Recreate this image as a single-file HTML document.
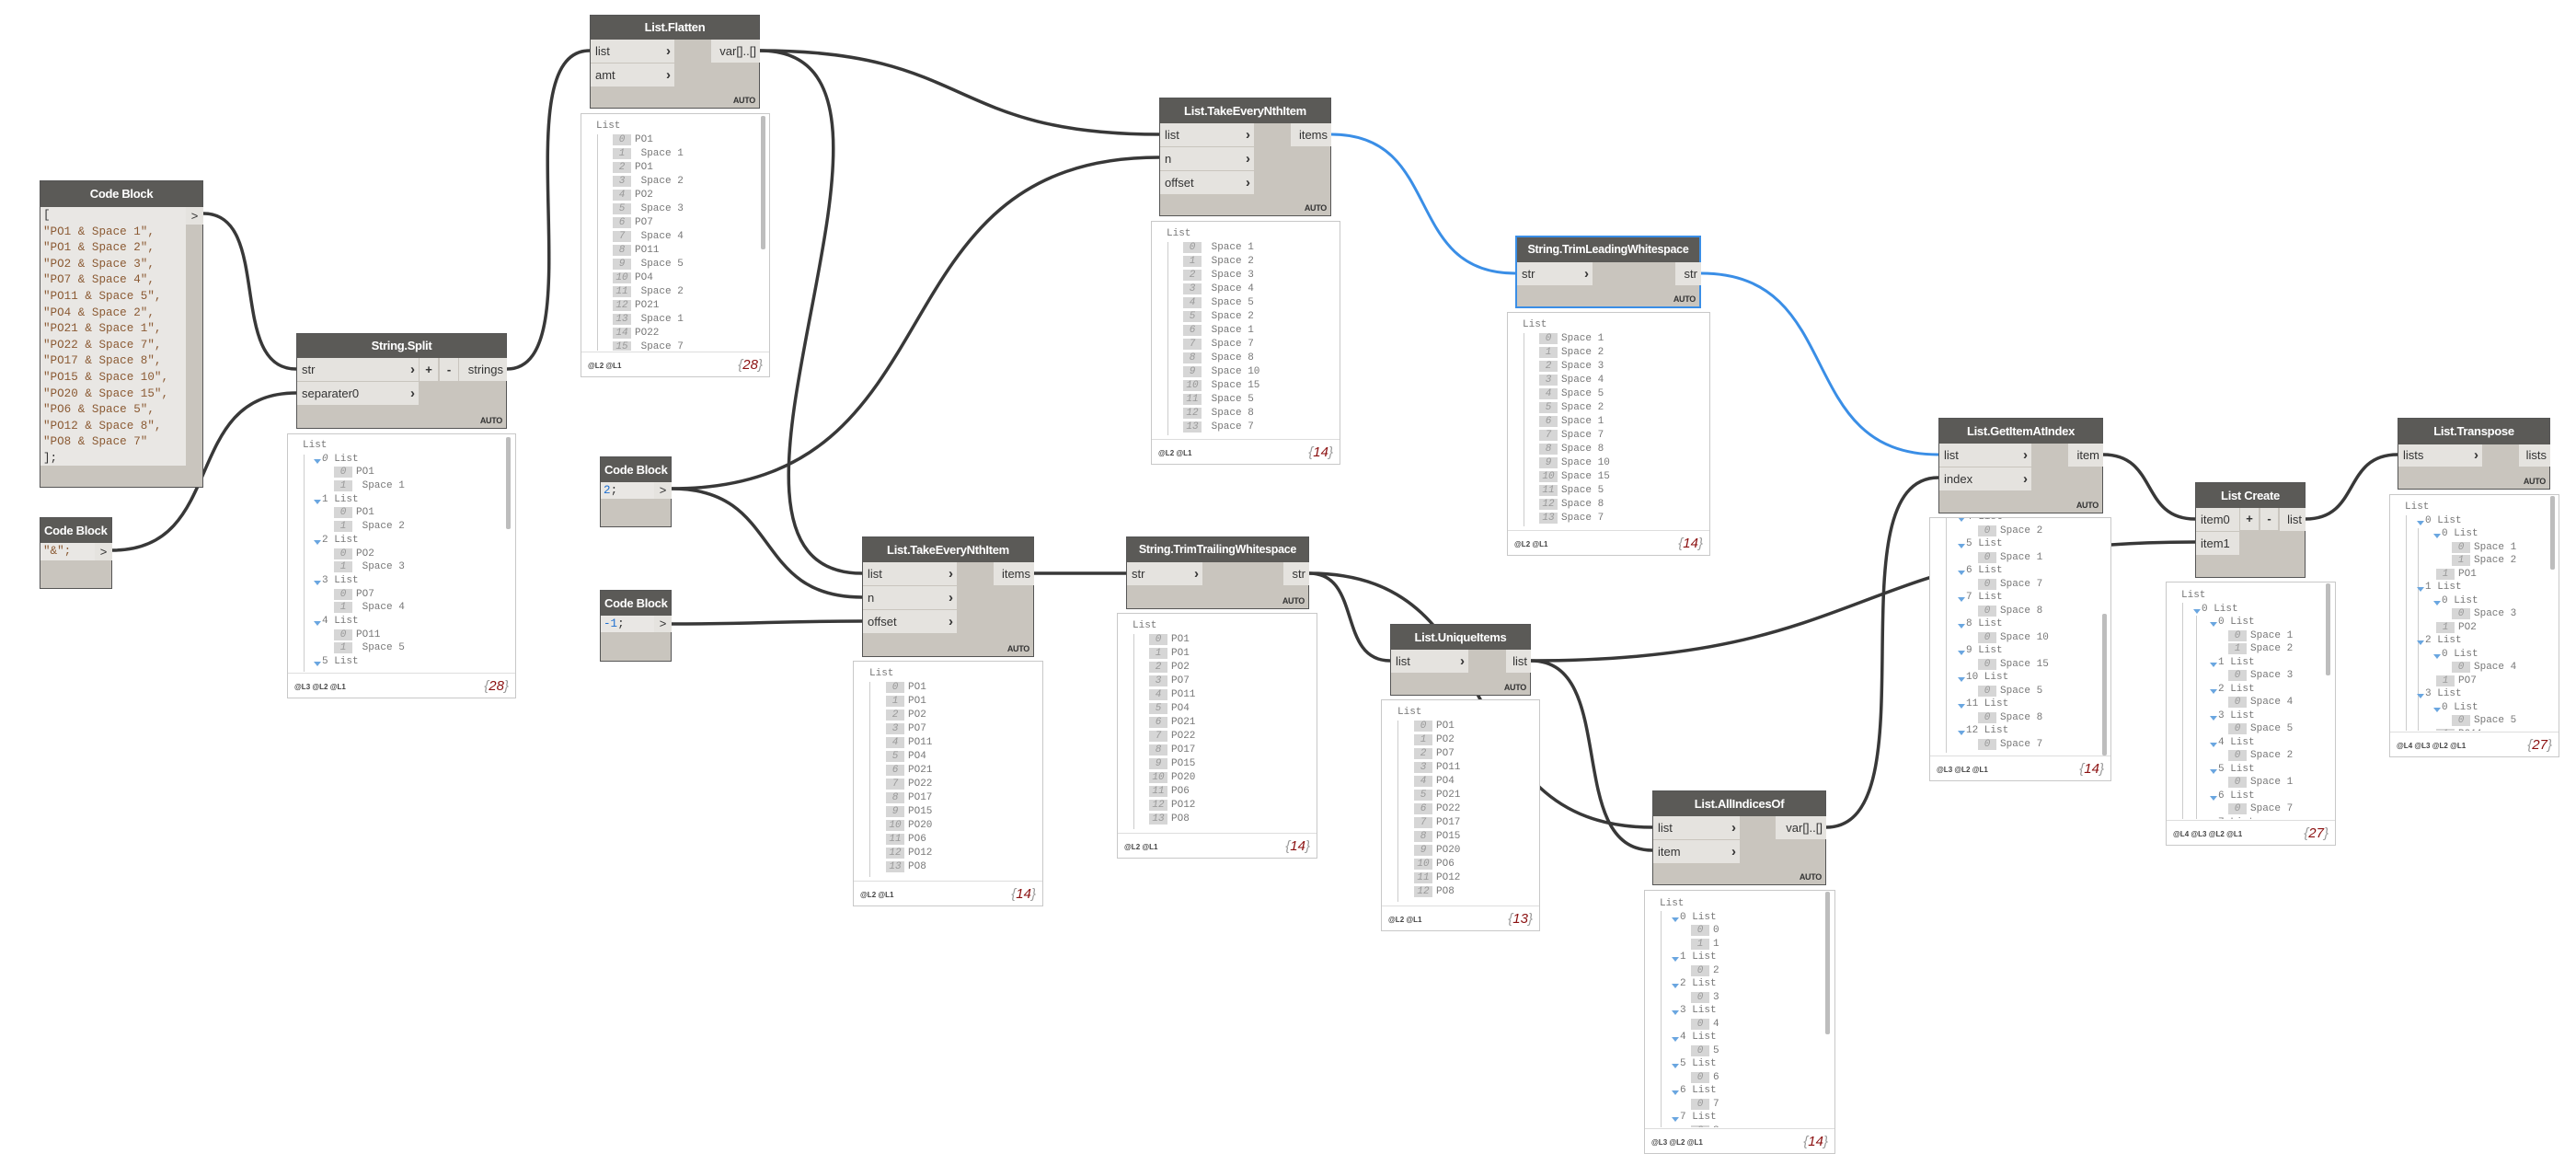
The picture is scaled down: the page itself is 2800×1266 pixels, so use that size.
<!DOCTYPE html>
<html><head><meta charset="utf-8"><style>
*{box-sizing:border-box;margin:0;padding:0}
body{width:2800px;height:1266px;background:#fff;position:relative;overflow:hidden;font-family:"Liberation Sans",sans-serif}
.n{position:absolute;background:#c9c5be;border:1px solid #555}
.n.sel{border:2px solid #3a8ee6}
.h{position:absolute;left:0;right:0;top:0;background:#5b5a57;color:#fff;font-weight:bold;font-size:13px;text-align:center;white-space:nowrap;letter-spacing:-0.3px}
.p{position:absolute;background:#e5e3df;color:#333;font-size:13px;padding-left:5px;white-space:nowrap}
.p i{position:absolute;right:4px;font-style:normal;font-weight:bold;font-size:15px;color:#333}
.o{position:absolute;background:#e5e3df;color:#333;font-size:13px;text-align:right;padding-right:4px;white-space:nowrap}
.a{position:absolute;right:4px;bottom:3px;font-size:9px;font-weight:bold;color:#333;letter-spacing:-0.3px}
.pm{position:absolute;background:#e5e3df;color:#333;font-size:13px;text-align:center;font-weight:bold}
.cb{position:absolute;background:#e9e7e4;font:12.6px "Liberation Mono",monospace;color:#8b5a33;white-space:pre;padding-left:3px}
.w{position:absolute;background:#fff;border:1px solid #c8c8c8;font:11px "Liberation Mono",monospace;color:#777;overflow:hidden}
.c{position:absolute;left:0;right:0;top:0;bottom:28px;overflow:hidden;padding-top:6px}
.l{height:15px;line-height:15px;white-space:pre}
.s .l{height:14.5px;line-height:14.5px}
.s2 .l{height:14.7px;line-height:14.7px}
.b{display:inline-block;background:#d6d6d6;color:#999;font-style:italic;min-width:20px;padding:0 3px;text-align:center;height:12px;line-height:12px;margin-right:4px}
.t{display:inline-block;width:0;height:0;border-left:4px solid transparent;border-right:4px solid transparent;border-top:5px solid #6aa6e0;vertical-align:-3px;margin-right:1px}
.f{position:absolute;left:0;right:0;bottom:0;height:27px;border-top:1px solid #ddd;background:#fff}
.lv{position:absolute;left:7px;top:10px;font:bold 8px "Liberation Sans",sans-serif;color:#444}
.ct{position:absolute;right:7px;top:5px;font:italic 15px "Liberation Sans",sans-serif;color:#999}
.ct b{color:#8b1010;font-weight:normal}
.tl{position:absolute;width:1px;background:#ccc}
.sb{position:absolute;width:5px;background:#bdbdbd;border-radius:2px}
</style></head><body>

<svg width="2800" height="1266" style="position:absolute;left:0;top:0" fill="none">
<g stroke="#383838" stroke-width="3.5">
<path d="M221 232 C297 232 246 401 322 401"/>
<path d="M122 598 C248 598 196 427 322 427"/>
<path d="M551 401 C649 401 543 55 641 55"/>
<path d="M826 55 C1057 55 1029 146 1260 146"/>
<path d="M826 55 C1046 55 717 623 937 623"/>
<path d="M730 531 C1049 531 941 171 1260 171"/>
<path d="M730 531 C851 531 816 649 937 649"/>
<path d="M730 678 C830 678 837 675 937 675"/>
<path d="M1124 623 L1224 623"/>
<path d="M1423 623 C1481 623 1453 718 1511 718"/>
<path d="M1423 623 C1650 623 1569 899 1796 899"/>
<path d="M1664 718 C1761 718 1699 924 1796 924"/>
<path d="M1664 718 C2044 718 2006 589 2386 589"/>
<path d="M1985 899 C2103 899 1989 519 2107 519"/>
<path d="M2286 494 C2346 494 2326 564 2386 564"/>
<path d="M2506 564 C2566 564 2546 494 2606 494"/>
</g>
<g stroke="#3a8ee6" stroke-width="3">
<path d="M1447 146 C1570 146 1524 297 1647 297"/>
<path d="M1849 297 C2008 297 1948 494 2107 494"/>
</g>
</svg>

<!-- Code Block 1 -->
<div class="n" style="left:43px;top:196px;width:178px;height:334px">
<div class="h" style="height:28px;line-height:28px">Code Block</div>
<div class="cb" style="left:0;top:28px;width:158px;height:281px;line-height:17.6px;padding-top:1px"><span style="color:#333">[</span>
"PO1 &amp; Space 1",
"PO1 &amp; Space 2",
"PO2 &amp; Space 3",
"PO7 &amp; Space 4",
"PO11 &amp; Space 5",
"PO4 &amp; Space 2",
"PO21 &amp; Space 1",
"PO22 &amp; Space 7",
"PO17 &amp; Space 8",
"PO15 &amp; Space 10",
"PO20 &amp; Space 15",
"PO6 &amp; Space 5",
"PO12 &amp; Space 8",
"PO8 &amp; Space 7"
<span style="color:#333">];</span></div>
<div class="o" style="left:158px;top:28px;width:19px;height:19px;line-height:19px;text-align:center;padding:0">&gt;</div>
</div>

<!-- Code Block 2 -->
<div class="n" style="left:43px;top:562px;width:79px;height:78px">
<div class="h" style="height:27px;line-height:27px;text-align:left;padding-left:4px">Code Block</div>
<div class="cb" style="left:0;top:27px;width:59px;height:19px;line-height:19px">"&amp;";</div>
<div class="o" style="left:59px;top:27px;width:19px;height:19px;line-height:19px;text-align:center;padding:0">&gt;</div>
</div>

<!-- Code Block 2; -->
<div class="n" style="left:652px;top:496px;width:78px;height:77px">
<div class="h" style="height:27px;line-height:27px;text-align:left;padding-left:4px">Code Block</div>
<div class="cb" style="left:0;top:27px;width:58px;height:18px;line-height:18px;color:#333"><span style="color:#1e6fd0">2</span>;</div>
<div class="o" style="left:58px;top:27px;width:19px;height:18px;line-height:18px;text-align:center;padding:0">&gt;</div>
</div>

<!-- Code Block -1; -->
<div class="n" style="left:652px;top:641px;width:78px;height:78px">
<div class="h" style="height:27px;line-height:27px;text-align:left;padding-left:4px">Code Block</div>
<div class="cb" style="left:0;top:27px;width:58px;height:18px;line-height:18px;color:#333"><span style="color:#1e6fd0">-1</span>;</div>
<div class="o" style="left:58px;top:27px;width:19px;height:18px;line-height:18px;text-align:center;padding:0">&gt;</div>
</div>

<!-- String.Split -->
<div class="n" style="left:322px;top:362px;width:229px;height:104px">
<div class="h" style="height:26px;line-height:26px">String.Split</div>
<div class="p" style="left:0;top:26px;width:132px;height:25px;line-height:25px">str<i>›</i></div>
<div class="p" style="left:0;top:52px;width:132px;height:25px;line-height:25px">separater0<i>›</i></div>
<div class="pm" style="left:133px;top:26px;width:20px;height:25px;line-height:25px">+</div>
<div class="pm" style="left:155px;top:26px;width:20px;height:25px;line-height:25px">-</div>
<div class="o" style="left:176px;top:26px;width:52px;height:25px;line-height:25px">strings</div>
<div class="a">AUTO</div>
</div>

<!-- List.Flatten -->
<div class="n" style="left:641px;top:16px;width:185px;height:102px">
<div class="h" style="height:26px;line-height:26px">List.Flatten</div>
<div class="p" style="left:0;top:26px;width:91px;height:25px;line-height:25px">list<i>›</i></div>
<div class="p" style="left:0;top:52px;width:91px;height:25px;line-height:25px">amt<i>›</i></div>
<div class="o" style="left:131px;top:26px;width:53px;height:25px;line-height:25px">var[]..[]</div>
<div class="a">AUTO</div>
</div>

<!-- TakeEveryNth 1 -->
<div class="n" style="left:1260px;top:106px;width:187px;height:129px">
<div class="h" style="height:27px;line-height:27px">List.TakeEveryNthItem</div>
<div class="p" style="left:0;top:27px;width:102px;height:25px;line-height:25px">list<i>›</i></div>
<div class="p" style="left:0;top:53px;width:102px;height:25px;line-height:25px">n<i>›</i></div>
<div class="p" style="left:0;top:79px;width:102px;height:25px;line-height:25px">offset<i>›</i></div>
<div class="o" style="left:142px;top:27px;width:44px;height:25px;line-height:25px">items</div>
<div class="a">AUTO</div>
</div>

<!-- TakeEveryNth 2 -->
<div class="n" style="left:937px;top:583px;width:187px;height:131px">
<div class="h" style="height:27px;line-height:27px">List.TakeEveryNthItem</div>
<div class="p" style="left:0;top:27px;width:102px;height:25px;line-height:25px">list<i>›</i></div>
<div class="p" style="left:0;top:53px;width:102px;height:25px;line-height:25px">n<i>›</i></div>
<div class="p" style="left:0;top:79px;width:102px;height:25px;line-height:25px">offset<i>›</i></div>
<div class="o" style="left:142px;top:27px;width:44px;height:25px;line-height:25px">items</div>
<div class="a">AUTO</div>
</div>

<!-- TrimTrailing -->
<div class="n" style="left:1224px;top:583px;width:199px;height:79px">
<div class="h" style="height:27px;line-height:27px;font-size:12.5px">String.TrimTrailingWhitespace</div>
<div class="p" style="left:0;top:27px;width:82px;height:25px;line-height:25px">str<i>›</i></div>
<div class="o" style="left:170px;top:27px;width:28px;height:25px;line-height:25px">str</div>
<div class="a">AUTO</div>
</div>

<!-- UniqueItems -->
<div class="n" style="left:1511px;top:678px;width:153px;height:78px">
<div class="h" style="height:27px;line-height:27px">List.UniqueItems</div>
<div class="p" style="left:0;top:27px;width:84px;height:25px;line-height:25px">list<i>›</i></div>
<div class="o" style="left:125px;top:27px;width:27px;height:25px;line-height:25px">list</div>
<div class="a">AUTO</div>
</div>

<!-- TrimLeading -->
<div class="n sel" style="left:1647px;top:256px;width:202px;height:79px">
<div class="h" style="height:27px;line-height:27px;font-size:12.5px">String.TrimLeadingWhitespace</div>
<div class="p" style="left:0;top:27px;width:82px;height:25px;line-height:25px">str<i>›</i></div>
<div class="o" style="left:172px;top:27px;width:28px;height:25px;line-height:25px">str</div>
<div class="a">AUTO</div>
</div>

<!-- GetItemAtIndex -->
<div class="n" style="left:2107px;top:454px;width:179px;height:104px">
<div class="h" style="height:27px;line-height:27px">List.GetItemAtIndex</div>
<div class="p" style="left:0;top:27px;width:100px;height:25px;line-height:25px">list<i>›</i></div>
<div class="p" style="left:0;top:53px;width:100px;height:25px;line-height:25px">index<i>›</i></div>
<div class="o" style="left:140px;top:27px;width:38px;height:25px;line-height:25px">item</div>
<div class="a">AUTO</div>
</div>

<!-- List Create -->
<div class="n" style="left:2386px;top:524px;width:120px;height:104px">
<div class="h" style="height:27px;line-height:27px">List Create</div>
<div class="p" style="left:0;top:27px;width:47px;height:25px;line-height:25px">item0</div>
<div class="p" style="left:0;top:53px;width:47px;height:25px;line-height:25px">item1</div>
<div class="pm" style="left:48px;top:27px;width:20px;height:24px;line-height:24px">+</div>
<div class="pm" style="left:70px;top:27px;width:19px;height:24px;line-height:24px">-</div>
<div class="o" style="left:91px;top:27px;width:28px;height:25px;line-height:25px">list</div>
</div>

<!-- Transpose -->
<div class="n" style="left:2606px;top:454px;width:166px;height:78px">
<div class="h" style="height:28px;line-height:28px">List.Transpose</div>
<div class="p" style="left:0;top:28px;width:91px;height:24px;line-height:24px">lists<i>›</i></div>
<div class="o" style="left:131px;top:28px;width:34px;height:24px;line-height:24px">lists</div>
<div class="a">AUTO</div>
</div>

<!-- AllIndicesOf -->
<div class="n" style="left:1796px;top:859px;width:189px;height:103px">
<div class="h" style="height:27px;line-height:27px">List.AllIndicesOf</div>
<div class="p" style="left:0;top:27px;width:94px;height:25px;line-height:25px">list<i>›</i></div>
<div class="p" style="left:0;top:53px;width:94px;height:25px;line-height:25px">item<i>›</i></div>
<div class="o" style="left:133px;top:27px;width:55px;height:25px;line-height:25px">var[]..[]</div>
<div class="a">AUTO</div>
</div>

<!-- Watch: Split -->
<div class="w s2" style="left:312px;top:471px;width:249px;height:288px">
<div class="tl" style="left:17px;top:22px;height:236px"></div>
<div class="c" style="padding-top:5px">
<div class="l" style="padding-left:16px">List</div>
<div class="l" style="padding-left:28px"><span class="t"></span><i>0</i> List</div>
<div class="l" style="padding-left:50px"><span class="b">0</span>PO1</div>
<div class="l" style="padding-left:50px"><span class="b">1</span> Space 1</div>
<div class="l" style="padding-left:28px"><span class="t"></span>1 List</div>
<div class="l" style="padding-left:50px"><span class="b">0</span>PO1</div>
<div class="l" style="padding-left:50px"><span class="b">1</span> Space 2</div>
<div class="l" style="padding-left:28px"><span class="t"></span>2 List</div>
<div class="l" style="padding-left:50px"><span class="b">0</span>PO2</div>
<div class="l" style="padding-left:50px"><span class="b">1</span> Space 3</div>
<div class="l" style="padding-left:28px"><span class="t"></span>3 List</div>
<div class="l" style="padding-left:50px"><span class="b">0</span>PO7</div>
<div class="l" style="padding-left:50px"><span class="b">1</span> Space 4</div>
<div class="l" style="padding-left:28px"><span class="t"></span>4 List</div>
<div class="l" style="padding-left:50px"><span class="b">0</span>PO11</div>
<div class="l" style="padding-left:50px"><span class="b">1</span> Space 5</div>
<div class="l" style="padding-left:28px"><span class="t"></span>5 List</div>
</div>
<div class="sb" style="left:237px;top:3px;height:100px"></div>
<div class="f"><span class="lv">@L3 @L2 @L1</span><span class="ct">{<b>28</b>}</span></div>
</div>

<!-- Watch: Flatten -->
<div class="w" style="left:631px;top:123px;width:206px;height:287px">
<div class="tl" style="left:17px;top:22px;height:235px"></div>
<div class="c">
<div class="l" style="padding-left:16px">List</div>
<div class="l" style="padding-left:34px"><span class="b">0</span>PO1</div>
<div class="l" style="padding-left:34px"><span class="b">1</span> Space 1</div>
<div class="l" style="padding-left:34px"><span class="b">2</span>PO1</div>
<div class="l" style="padding-left:34px"><span class="b">3</span> Space 2</div>
<div class="l" style="padding-left:34px"><span class="b">4</span>PO2</div>
<div class="l" style="padding-left:34px"><span class="b">5</span> Space 3</div>
<div class="l" style="padding-left:34px"><span class="b">6</span>PO7</div>
<div class="l" style="padding-left:34px"><span class="b">7</span> Space 4</div>
<div class="l" style="padding-left:34px"><span class="b">8</span>PO11</div>
<div class="l" style="padding-left:34px"><span class="b">9</span> Space 5</div>
<div class="l" style="padding-left:34px"><span class="b">10</span>PO4</div>
<div class="l" style="padding-left:34px"><span class="b">11</span> Space 2</div>
<div class="l" style="padding-left:34px"><span class="b">12</span>PO21</div>
<div class="l" style="padding-left:34px"><span class="b">13</span> Space 1</div>
<div class="l" style="padding-left:34px"><span class="b">14</span>PO22</div>
<div class="l" style="padding-left:34px"><span class="b">15</span> Space 7</div>
</div>
<div class="sb" style="left:195px;top:2px;height:145px"></div>
<div class="f"><span class="lv">@L2 @L1</span><span class="ct">{<b>28</b>}</span></div>
</div>

<!-- Watch: TakeNth1 -->
<div class="w" style="left:1251px;top:240px;width:206px;height:265px">
<div class="tl" style="left:17px;top:22px;height:210px"></div>
<div class="c">
<div class="l" style="padding-left:16px">List</div>
<div class="l" style="padding-left:34px"><span class="b">0</span> Space 1</div>
<div class="l" style="padding-left:34px"><span class="b">1</span> Space 2</div>
<div class="l" style="padding-left:34px"><span class="b">2</span> Space 3</div>
<div class="l" style="padding-left:34px"><span class="b">3</span> Space 4</div>
<div class="l" style="padding-left:34px"><span class="b">4</span> Space 5</div>
<div class="l" style="padding-left:34px"><span class="b">5</span> Space 2</div>
<div class="l" style="padding-left:34px"><span class="b">6</span> Space 1</div>
<div class="l" style="padding-left:34px"><span class="b">7</span> Space 7</div>
<div class="l" style="padding-left:34px"><span class="b">8</span> Space 8</div>
<div class="l" style="padding-left:34px"><span class="b">9</span> Space 10</div>
<div class="l" style="padding-left:34px"><span class="b">10</span> Space 15</div>
<div class="l" style="padding-left:34px"><span class="b">11</span> Space 5</div>
<div class="l" style="padding-left:34px"><span class="b">12</span> Space 8</div>
<div class="l" style="padding-left:34px"><span class="b">13</span> Space 7</div>
</div>
<div class="f"><span class="lv">@L2 @L1</span><span class="ct">{<b>14</b>}</span></div>
</div>

<!-- Watch: TakeNth2 -->
<div class="w" style="left:927px;top:718px;width:207px;height:267px">
<div class="tl" style="left:17px;top:22px;height:212px"></div>
<div class="c">
<div class="l" style="padding-left:17px">List</div>
<div class="l" style="padding-left:35px"><span class="b">0</span>PO1</div>
<div class="l" style="padding-left:35px"><span class="b">1</span>PO1</div>
<div class="l" style="padding-left:35px"><span class="b">2</span>PO2</div>
<div class="l" style="padding-left:35px"><span class="b">3</span>PO7</div>
<div class="l" style="padding-left:35px"><span class="b">4</span>PO11</div>
<div class="l" style="padding-left:35px"><span class="b">5</span>PO4</div>
<div class="l" style="padding-left:35px"><span class="b">6</span>PO21</div>
<div class="l" style="padding-left:35px"><span class="b">7</span>PO22</div>
<div class="l" style="padding-left:35px"><span class="b">8</span>PO17</div>
<div class="l" style="padding-left:35px"><span class="b">9</span>PO15</div>
<div class="l" style="padding-left:35px"><span class="b">10</span>PO20</div>
<div class="l" style="padding-left:35px"><span class="b">11</span>PO6</div>
<div class="l" style="padding-left:35px"><span class="b">12</span>PO12</div>
<div class="l" style="padding-left:35px"><span class="b">13</span>PO8</div>
</div>
<div class="f"><span class="lv">@L2 @L1</span><span class="ct">{<b>14</b>}</span></div>
</div>

<!-- Watch: TrimTrailing -->
<div class="w" style="left:1214px;top:666px;width:218px;height:267px">
<div class="tl" style="left:17px;top:22px;height:212px"></div>
<div class="c">
<div class="l" style="padding-left:16px">List</div>
<div class="l" style="padding-left:34px"><span class="b">0</span>PO1</div>
<div class="l" style="padding-left:34px"><span class="b">1</span>PO1</div>
<div class="l" style="padding-left:34px"><span class="b">2</span>PO2</div>
<div class="l" style="padding-left:34px"><span class="b">3</span>PO7</div>
<div class="l" style="padding-left:34px"><span class="b">4</span>PO11</div>
<div class="l" style="padding-left:34px"><span class="b">5</span>PO4</div>
<div class="l" style="padding-left:34px"><span class="b">6</span>PO21</div>
<div class="l" style="padding-left:34px"><span class="b">7</span>PO22</div>
<div class="l" style="padding-left:34px"><span class="b">8</span>PO17</div>
<div class="l" style="padding-left:34px"><span class="b">9</span>PO15</div>
<div class="l" style="padding-left:34px"><span class="b">10</span>PO20</div>
<div class="l" style="padding-left:34px"><span class="b">11</span>PO6</div>
<div class="l" style="padding-left:34px"><span class="b">12</span>PO12</div>
<div class="l" style="padding-left:34px"><span class="b">13</span>PO8</div>
</div>
<div class="f"><span class="lv">@L2 @L1</span><span class="ct">{<b>14</b>}</span></div>
</div>

<!-- Watch: Unique -->
<div class="w" style="left:1501px;top:760px;width:173px;height:252px">
<div class="tl" style="left:17px;top:22px;height:197px"></div>
<div class="c">
<div class="l" style="padding-left:17px">List</div>
<div class="l" style="padding-left:35px"><span class="b">0</span>PO1</div>
<div class="l" style="padding-left:35px"><span class="b">1</span>PO2</div>
<div class="l" style="padding-left:35px"><span class="b">2</span>PO7</div>
<div class="l" style="padding-left:35px"><span class="b">3</span>PO11</div>
<div class="l" style="padding-left:35px"><span class="b">4</span>PO4</div>
<div class="l" style="padding-left:35px"><span class="b">5</span>PO21</div>
<div class="l" style="padding-left:35px"><span class="b">6</span>PO22</div>
<div class="l" style="padding-left:35px"><span class="b">7</span>PO17</div>
<div class="l" style="padding-left:35px"><span class="b">8</span>PO15</div>
<div class="l" style="padding-left:35px"><span class="b">9</span>PO20</div>
<div class="l" style="padding-left:35px"><span class="b">10</span>PO6</div>
<div class="l" style="padding-left:35px"><span class="b">11</span>PO12</div>
<div class="l" style="padding-left:35px"><span class="b">12</span>PO8</div>
</div>
<div class="f"><span class="lv">@L2 @L1</span><span class="ct">{<b>13</b>}</span></div>
</div>

<!-- Watch: TrimLeading -->
<div class="w" style="left:1638px;top:339px;width:221px;height:265px">
<div class="tl" style="left:17px;top:22px;height:210px"></div>
<div class="c">
<div class="l" style="padding-left:16px">List</div>
<div class="l" style="padding-left:34px"><span class="b">0</span>Space 1</div>
<div class="l" style="padding-left:34px"><span class="b">1</span>Space 2</div>
<div class="l" style="padding-left:34px"><span class="b">2</span>Space 3</div>
<div class="l" style="padding-left:34px"><span class="b">3</span>Space 4</div>
<div class="l" style="padding-left:34px"><span class="b">4</span>Space 5</div>
<div class="l" style="padding-left:34px"><span class="b">5</span>Space 2</div>
<div class="l" style="padding-left:34px"><span class="b">6</span>Space 1</div>
<div class="l" style="padding-left:34px"><span class="b">7</span>Space 7</div>
<div class="l" style="padding-left:34px"><span class="b">8</span>Space 8</div>
<div class="l" style="padding-left:34px"><span class="b">9</span>Space 10</div>
<div class="l" style="padding-left:34px"><span class="b">10</span>Space 15</div>
<div class="l" style="padding-left:34px"><span class="b">11</span>Space 5</div>
<div class="l" style="padding-left:34px"><span class="b">12</span>Space 8</div>
<div class="l" style="padding-left:34px"><span class="b">13</span>Space 7</div>
</div>
<div class="f"><span class="lv">@L2 @L1</span><span class="ct">{<b>14</b>}</span></div>
</div>

<!-- Watch: GetItemAtIndex -->
<div class="w s" style="left:2097px;top:562px;width:198px;height:287px">
<div class="tl" style="left:17px;top:0;height:255px"></div>
<div class="c" style="padding-top:0"><div style="margin-top:-8px">
<div class="l" style="padding-left:30px"><span class="t"></span>4 List</div>
<div class="l" style="padding-left:52px"><span class="b">0</span>Space 2</div>
<div class="l" style="padding-left:30px"><span class="t"></span>5 List</div>
<div class="l" style="padding-left:52px"><span class="b">0</span>Space 1</div>
<div class="l" style="padding-left:30px"><span class="t"></span>6 List</div>
<div class="l" style="padding-left:52px"><span class="b">0</span>Space 7</div>
<div class="l" style="padding-left:30px"><span class="t"></span>7 List</div>
<div class="l" style="padding-left:52px"><span class="b">0</span>Space 8</div>
<div class="l" style="padding-left:30px"><span class="t"></span>8 List</div>
<div class="l" style="padding-left:52px"><span class="b">0</span>Space 10</div>
<div class="l" style="padding-left:30px"><span class="t"></span>9 List</div>
<div class="l" style="padding-left:52px"><span class="b">0</span>Space 15</div>
<div class="l" style="padding-left:30px"><span class="t"></span>10 List</div>
<div class="l" style="padding-left:52px"><span class="b">0</span>Space 5</div>
<div class="l" style="padding-left:30px"><span class="t"></span>11 List</div>
<div class="l" style="padding-left:52px"><span class="b">0</span>Space 8</div>
<div class="l" style="padding-left:30px"><span class="t"></span>12 List</div>
<div class="l" style="padding-left:52px"><span class="b">0</span>Space 7</div>
</div></div>
<div class="sb" style="left:187px;top:104px;height:154px"></div>
<div class="f"><span class="lv">@L3 @L2 @L1</span><span class="ct">{<b>14</b>}</span></div>
</div>

<!-- Watch: List Create -->
<div class="w s" style="left:2354px;top:632px;width:185px;height:287px">
<div class="tl" style="left:17px;top:22px;height:235px"></div>
<div class="tl" style="left:32px;top:36px;height:221px"></div>
<div class="c" style="padding-top:7px">
<div class="l" style="padding-left:16px">List</div>
<div class="l" style="padding-left:29px"><span class="t"></span>0 List</div>
<div class="l" style="padding-left:47px"><span class="t"></span>0 List</div>
<div class="l" style="padding-left:67px"><span class="b">0</span>Space 1</div>
<div class="l" style="padding-left:67px"><span class="b">1</span>Space 2</div>
<div class="l" style="padding-left:47px"><span class="t"></span>1 List</div>
<div class="l" style="padding-left:67px"><span class="b">0</span>Space 3</div>
<div class="l" style="padding-left:47px"><span class="t"></span>2 List</div>
<div class="l" style="padding-left:67px"><span class="b">0</span>Space 4</div>
<div class="l" style="padding-left:47px"><span class="t"></span>3 List</div>
<div class="l" style="padding-left:67px"><span class="b">0</span>Space 5</div>
<div class="l" style="padding-left:47px"><span class="t"></span>4 List</div>
<div class="l" style="padding-left:67px"><span class="b">0</span>Space 2</div>
<div class="l" style="padding-left:47px"><span class="t"></span>5 List</div>
<div class="l" style="padding-left:67px"><span class="b">0</span>Space 1</div>
<div class="l" style="padding-left:47px"><span class="t"></span>6 List</div>
<div class="l" style="padding-left:67px"><span class="b">0</span>Space 7</div>
<div class="l" style="padding-left:47px"><span class="t"></span>7 List</div>
</div>
<div class="sb" style="left:173px;top:1px;height:100px"></div>
<div class="f"><span class="lv">@L4 @L3 @L2 @L1</span><span class="ct">{<b>27</b>}</span></div>
</div>

<!-- Watch: Transpose -->
<div class="w s" style="left:2597px;top:537px;width:185px;height:286px">
<div class="tl" style="left:17px;top:22px;height:234px"></div>
<div class="tl" style="left:30px;top:36px;height:220px"></div>
<div class="c" style="padding-top:6px">
<div class="l" style="padding-left:16px">List</div>
<div class="l" style="padding-left:29px"><span class="t"></span>0 List</div>
<div class="l" style="padding-left:47px"><span class="t"></span>0 List</div>
<div class="l" style="padding-left:67px"><span class="b">0</span>Space 1</div>
<div class="l" style="padding-left:67px"><span class="b">1</span>Space 2</div>
<div class="l" style="padding-left:50px"><span class="b">1</span>PO1</div>
<div class="l" style="padding-left:29px"><span class="t"></span>1 List</div>
<div class="l" style="padding-left:47px"><span class="t"></span>0 List</div>
<div class="l" style="padding-left:67px"><span class="b">0</span>Space 3</div>
<div class="l" style="padding-left:50px"><span class="b">1</span>PO2</div>
<div class="l" style="padding-left:29px"><span class="t"></span>2 List</div>
<div class="l" style="padding-left:47px"><span class="t"></span>0 List</div>
<div class="l" style="padding-left:67px"><span class="b">0</span>Space 4</div>
<div class="l" style="padding-left:50px"><span class="b">1</span>PO7</div>
<div class="l" style="padding-left:29px"><span class="t"></span>3 List</div>
<div class="l" style="padding-left:47px"><span class="t"></span>0 List</div>
<div class="l" style="padding-left:67px"><span class="b">0</span>Space 5</div>
<div class="l" style="padding-left:50px"><span class="b">1</span>PO11</div>
</div>
<div class="sb" style="left:174px;top:1px;height:80px"></div>
<div class="f"><span class="lv">@L4 @L3 @L2 @L1</span><span class="ct">{<b>27</b>}</span></div>
</div>

<!-- Watch: AllIndicesOf -->
<div class="w s" style="left:1787px;top:967px;width:208px;height:287px">
<div class="tl" style="left:17px;top:22px;height:235px"></div>
<div class="c" style="padding-top:7px">
<div class="l" style="padding-left:16px">List</div>
<div class="l" style="padding-left:29px"><span class="t"></span>0 List</div>
<div class="l" style="padding-left:50px"><span class="b">0</span>0</div>
<div class="l" style="padding-left:50px"><span class="b">1</span>1</div>
<div class="l" style="padding-left:29px"><span class="t"></span>1 List</div>
<div class="l" style="padding-left:50px"><span class="b">0</span>2</div>
<div class="l" style="padding-left:29px"><span class="t"></span>2 List</div>
<div class="l" style="padding-left:50px"><span class="b">0</span>3</div>
<div class="l" style="padding-left:29px"><span class="t"></span>3 List</div>
<div class="l" style="padding-left:50px"><span class="b">0</span>4</div>
<div class="l" style="padding-left:29px"><span class="t"></span>4 List</div>
<div class="l" style="padding-left:50px"><span class="b">0</span>5</div>
<div class="l" style="padding-left:29px"><span class="t"></span>5 List</div>
<div class="l" style="padding-left:50px"><span class="b">0</span>6</div>
<div class="l" style="padding-left:29px"><span class="t"></span>6 List</div>
<div class="l" style="padding-left:50px"><span class="b">0</span>7</div>
<div class="l" style="padding-left:29px"><span class="t"></span>7 List</div>
<div class="l" style="padding-left:50px"><span class="b">0</span>8</div>
</div>
<div class="sb" style="left:196px;top:1px;height:155px"></div>
<div class="f"><span class="lv">@L3 @L2 @L1</span><span class="ct">{<b>14</b>}</span></div>
</div>

</body></html>
